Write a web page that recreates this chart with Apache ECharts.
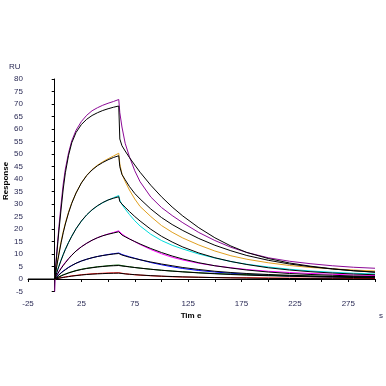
<!DOCTYPE html>
<html><head><meta charset="utf-8">
<script src="https://cdn.jsdelivr.net/npm/echarts@6/dist/echarts.min.js"></script>
<style>html,body{margin:0;padding:0;background:#fff}#c{width:386px;height:386px}</style>
</head><body><div id="c"></div>
<script>
var times = [0,1,2,3,4,6,8,10,13,16,20,25,30,35,40,45,50,55,60, 61,63,66,70,75,80,90,100,110,120,135,150,165,180,200,220,240,260,280,300];
var baselineTimes = [-25, 0];
var baselineValues = [0, 0];

var purple = [-5,5.5,11,16,21,30,38,44,50.5,55.3,59.5,63,65.5,67.3,68.5,69.5,70.3,71,71.8,
  66.5,60.8,54.3,48.9,43.3,38.9,32.8,28.6,25.4,22.5,18.6,15.4,12.7,10.6,8.5,7.1,6.1,5.3,4.7,4.3];
var purpleFit = [0,5,10,15,19.5,28,36,42.5,49.5,54.5,58.6,61.8,63.9,65.4,66.5,67.4,68.1,68.7,69.2,
  56,53.3,51.2,48.6,45.6,42.7,37.5,32.9,28.8,25.2,20.5,16.5,13.2,10.6,8.2,6.4,5.1,4.1,3.3,2.7];
var orange = [0,2.8,5.5,8,10.5,15,19,22.4,26.8,30.5,34.4,38.5,41.5,43.8,45.5,46.9,48.1,49.2,50.3,
  46,42,39,35.6,32,29,25,21.4,18.7,16.4,13.6,11.2,9.3,7.9,6.5,5.4,4.6,4.1,3.6,3.2];
var orangeFit = [0,2.6,5.2,7.7,10,14.5,18.5,22,26.5,30.3,34.4,38.4,41.4,43.6,45.3,46.6,47.7,48.6,49.3,
  44.9,41.8,39.7,37,34.2,32,28,24.6,21.8,19.4,16.2,13.5,11.3,9.4,7.5,6,4.9,4,3.3,2.8];
var cyan = [0,1.4,2.8,4.1,5.3,7.7,9.9,12,14.7,17.2,20.1,23.1,25.6,27.6,29.2,30.5,31.6,32.5,33.4,
  31.5,29.8,28,25.8,23.3,21.2,17.9,15.4,13.5,12,10,8.4,7,5.9,4.8,3.9,3.2,2.7,2.3,2];
var cyanFit = [0,1.3,2.6,3.9,5.1,7.5,9.7,11.8,14.6,17.1,20.1,23.2,25.7,27.7,29.3,30.6,31.6,32.3,32.9,
  31,30,28.7,27,25,23.2,19.9,17.1,14.8,12.8,10.4,8.5,7,5.8,4.5,3.6,2.9,2.4,2,1.7];
var magenta = [0,0.8,1.6,2.4,3.1,4.4,5.6,6.7,8.2,9.6,11.2,12.9,14.3,15.5,16.5,17.3,18,18.6,19.3,
  18.7,18,17.1,16.1,14.9,13.8,11.8,10.1,8.7,7.6,6.3,5.3,4.5,3.8,3.1,2.6,2.2,1.9,1.6,1.4];
var magentaFit = [0,0.75,1.5,2.2,2.9,4.2,5.4,6.5,8.1,9.5,11.2,12.9,14.3,15.5,16.5,17.3,17.9,18.4,18.9,
  18.2,17.6,16.9,16,15,14,12.2,10.6,9.2,8,6.5,5.3,4.4,3.6,2.8,2.2,1.8,1.5,1.2,1];
var blue = [0,0.45,0.9,1.3,1.7,2.5,3.2,3.8,4.7,5.4,6.3,7.2,7.9,8.5,9,9.4,9.8,10.1,10.4,
  10.1,9.8,9.4,8.9,8.3,7.7,6.6,5.7,4.9,4.2,3.4,2.8,2.3,1.9,1.5,1.2,1,0.85,0.75,0.7];
var blueFit = [0,0.4,0.8,1.2,1.6,2.4,3.1,3.7,4.6,5.4,6.3,7.2,7.9,8.5,9,9.4,9.7,10,10.2,
  9.9,9.6,9.2,8.7,8.2,7.7,6.8,6,5.3,4.6,3.8,3.1,2.6,2.2,1.8,1.5,1.2,1,0.9,0.8];
var green = [0,0.25,0.5,0.7,0.9,1.3,1.7,2,2.5,2.9,3.4,3.9,4.3,4.6,4.9,5.1,5.3,5.5,5.6,
  5.5,5.35,5.15,4.9,4.6,4.35,3.9,3.5,3.2,2.9,2.5,2.2,1.95,1.75,1.5,1.3,1.15,1.05,0.95,0.9];
var greenFit = [0,0.2,0.4,0.6,0.8,1.2,1.6,1.9,2.4,2.8,3.3,3.8,4.2,4.5,4.8,5,5.2,5.3,5.4,
  5.3,5.2,5.05,4.85,4.6,4.35,3.9,3.5,3.15,2.85,2.45,2.1,1.8,1.55,1.3,1.1,0.9,0.75,0.6,0.5];
var red = [0,0.1,0.2,0.3,0.4,0.55,0.7,0.85,1.05,1.25,1.45,1.7,1.9,2.05,2.2,2.3,2.4,2.45,2.5,
  2.4,2.3,2.1,1.9,1.7,1.55,1.3,1.1,0.9,0.8,0.7,0.6,0.5,0.5,0.4,0.35,0.3,0.3,0.25,0.2];
var redFit = [0,0.08,0.15,0.22,0.3,0.45,0.6,0.75,0.95,1.15,1.35,1.6,1.8,1.95,2.05,2.15,2.25,2.3,2.35,
  2.3,2.2,2.05,1.9,1.75,1.6,1.35,1.15,1,0.85,0.7,0.55,0.45,0.35,0.25,0.2,0.15,0.1,0.05,0];

var xTicks = [-25,25,75,125,175,225,275];

function pairs(t, v){ return t.map(function(x,i){ return [x, v[i]]; }); }
var FONT = 'Liberation Sans';
var dataSeries = [
  {name:'purple', v:purple, c:'#8c0a96'},
  {name:'orange', v:orange, c:'#e0a020'},
  {name:'cyan', v:cyan, c:'#00dcdc'},
  {name:'magenta', v:magenta, c:'#ff00ff'},
  {name:'blue', v:blue, c:'#0000ff'},
  {name:'green', v:green, c:'#006400'},
  {name:'red', v:red, c:'#ff0000'}
];
var fitSeries = [purpleFit, orangeFit, cyanFit, magentaFit, blueFit, greenFit, redFit];
var series = [];
series.push({type:'line', data:pairs(baselineTimes, baselineValues), symbol:'none', lineStyle:{color:'#000', width:1}, silent:true});
dataSeries.forEach(function(s){
  series.push({type:'line', name:s.name, data:pairs(times, s.v), symbol:'none', smooth:false,
    lineStyle:{color:s.c, width:1}, silent:true});
});
fitSeries.forEach(function(v){
  series.push({type:'line', data:pairs(times, v), symbol:'none', smooth:false,
    lineStyle:{color:'#000', width:1}, silent:true});
});

var chart = echarts.init(document.getElementById('c'), null, {renderer:'canvas'});
chart.setOption({
  animation:false,
  backgroundColor:'#fff',
  grid:{left:28, right:11, top:79, bottom:94.5},
  xAxis:{type:'value', min:-25, max:300, interval:25,
    axisLine:{lineStyle:{color:'#000', width:1}},
    axisTick:{lineStyle:{color:'#000'}, length:3},
    splitLine:{show:false},
    axisLabel:{fontFamily:FONT, fontSize:8, color:'#2a2a55', margin:8,
      formatter:function(v){ return xTicks.indexOf(v) >= 0 ? String(v) : ''; }}
  },
  yAxis:{type:'value', min:-5, max:80, interval:5,
    axisLine:{show:true, lineStyle:{color:'#000', width:1}},
    axisTick:{show:true, lineStyle:{color:'#000'}, length:3},
    splitLine:{show:false},
    axisLabel:{fontFamily:FONT, fontSize:8, color:'#2a2a55', margin:5}
  },
  graphic:[
    {type:'text', left:9, top:63, style:{text:'RU', font:'8px "Liberation Sans"', fill:'#2a2a55'}},
    {type:'text', x:6, y:181, rotation:Math.PI/2, style:{text:'Response', font:'bold 8px "Liberation Sans"', fill:'#000', align:'center', verticalAlign:'middle'}},
    {type:'text', x:191, y:316, style:{text:'Tim e', font:'bold 8px "Liberation Sans"', fill:'#000', align:'center', verticalAlign:'middle'}},
    {type:'text', x:381, y:316, style:{text:'s', font:'8px "Liberation Sans"', fill:'#2a2a55', align:'center', verticalAlign:'middle'}}
  ],
  series:series
});
</script></body></html>
